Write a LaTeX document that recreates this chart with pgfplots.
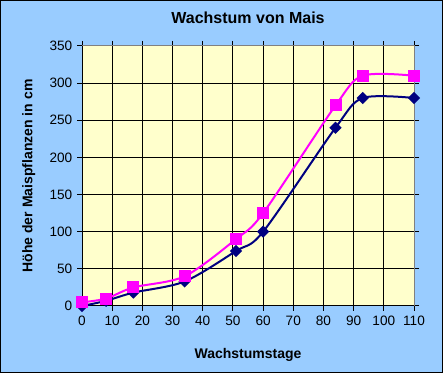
\documentclass[border=0pt]{standalone}
\usepackage{pgfplots}
\pgfplotsset{compat=1.18}
\usepackage{fontspec}
\setmainfont{Liberation Sans}
\definecolor{bgblue}{HTML}{99CCFF}
\definecolor{plotyellow}{HTML}{FFFFCC}
\definecolor{navyc}{HTML}{000080}
\definecolor{magc}{HTML}{FF00FF}
\begin{document}
\begin{tikzpicture}[x=1pt,y=1pt]
\fill[bgblue,draw=black,line width=0.75pt] (0.375,0.375) rectangle (331.875,279.375);
\useasboundingbox (0,0) rectangle (332.25,279.75);
\begin{axis}[
  at={(61.5pt,50.25pt)}, anchor=south west,
  scale only axis, width=249pt, height=195pt,
  xmin=0, xmax=110, ymin=0, ymax=350,
  xtick={0,10,...,110}, ytick={0,50,...,350},
  axis background/.style={fill=plotyellow},
  grid=major, major grid style={black, line width=0.75pt},
  axis line style={draw=gray, line width=0.75pt},
  tick align=outside, major tick length=3.75pt,
  tick style={black, line width=0.75pt},
  /pgf/number format/assume math mode=true,
  tick label style={font=\fontsize{10.2}{12}\selectfont},
  clip=false,
  title={Wachstum von Mais},
  title style={at={(axis description cs:0.5,1.077)}, anchor=center, font=\bfseries\fontsize{12}{14}\selectfont},
  xlabel={Wachstumstage},
  xlabel style={at={(axis description cs:0.5,-0.19)}, anchor=center, font=\bfseries\fontsize{10.5}{12}\selectfont},
  ylabel={Höhe der Maispflanzen in cm},
  ylabel style={at={(axis description cs:-0.16,0.5)}, anchor=center, rotate=0, font=\bfseries\fontsize{10.5}{12}\selectfont},
]
\draw[black, line width=0.75pt] (rel axis cs:0,1) -- (rel axis cs:0,0) -- (rel axis cs:1,0);
\addplot[navyc, line width=1.5pt, smooth, tension=0.5, mark=square*, mark size=2.5pt, mark options={rotate=45, fill=navyc, solid}]
coordinates {(0,0) (8,7) (17,18) (34,33) (51,74) (60,100) (84,240) (93,280) (110,280)};
\addplot[magc, line width=1.5pt, smooth, tension=0.5, mark=square*, mark size=3.75pt, mark options={fill=magc, solid}]
coordinates {(0,5) (8,10) (17,25) (34,40) (51,90) (60,125) (84,270) (93,310) (110,310)};
\end{axis}
\end{tikzpicture}
\end{document}
